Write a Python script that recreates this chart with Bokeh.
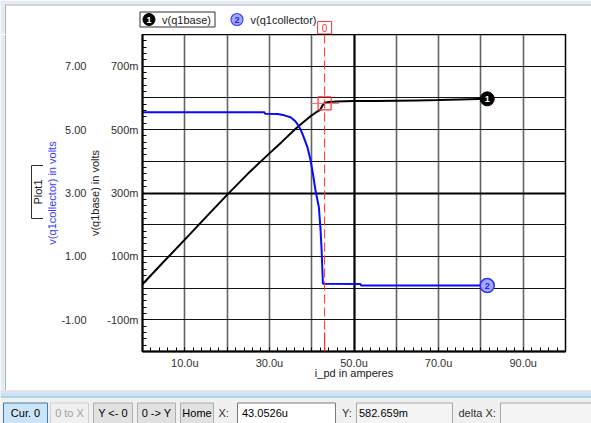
import math
from bokeh.plotting import figure
from bokeh.models import Range1d, LinearAxis, FixedTicker, Grid, Span
from bokeh.layouts import column, row
from bokeh.embed import file_html
from bokeh.resources import INLINE
from bokeh.core.properties import value

# ---------------- data (x in micro-amperes) ----------------
base_x = [0, 5, 10, 15, 20, 25, 30, 33, 36, 38, 40, 41, 42, 42.5, 43, 44, 46, 50, 55, 60, 65, 70, 75, 81.5]
base_v = [0.012, 0.083, 0.153, 0.224, 0.294, 0.362, 0.425, 0.462, 0.500, 0.523, 0.545, 0.554, 0.562,
          0.575, 0.584, 0.587, 0.589, 0.590, 0.590, 0.591, 0.592, 0.593, 0.595, 0.597]

coll_x = [0, 28.8, 29.0, 32.0, 33.5, 35.0, 36.0, 36.6, 37.3, 37.8, 38.5, 39.0, 39.7, 40.3, 40.9,
          41.7, 42.1, 42.35, 42.5, 42.65, 51.5, 51.7, 81.5]
coll_v = [5.55, 5.55, 5.50, 5.49, 5.45, 5.39, 5.28, 5.18, 5.02, 4.87, 4.62, 4.44, 4.05, 3.60, 3.08,
          2.55, 1.82, 1.19, 0.66, 0.14, 0.13, 0.08, 0.08]

cursor_x = 43.0526
cursor_y = 0.582659

x_tick_vals = [10, 30, 50, 70, 90]
x_tick_labels = ["10.0u", "30.0u", "50.0u", "70.0u", "90.0u"]
base_tick_vals = [-0.1, 0.1, 0.3, 0.5, 0.7]
base_tick_labels = ["-100m", "100m", "300m", "500m", "700m"]
coll_tick_vals = [-1, 1, 3, 5, 7]
coll_tick_labels = ["-1.00", "1.00", "3.00", "5.00", "7.00"]

FONT = "Liberation Sans"
BLUE = "#0a0aff"
RED = "#ff3030"
CHROME = "#e6ecf3"
CHROME_LINE = "#a9b3bd"
W = 591
LW = 43                      # width of the left strip holding the "Plot1" tag
FRAME_L, FRAME_R = 142, 565
X0, X1 = 0, 100
Y0, Y1 = -0.2, 0.8


def bare(fig, fill):
    fig.outline_line_color = None
    fig.background_fill_color = fill
    fig.border_fill_color = fill
    fig.frame_align = False


# ---------------- main chart ----------------
p = figure(width=W - LW, height=356, x_range=Range1d(X0, X1), y_range=Range1d(Y0, Y1),
           output_backend="svg", toolbar_location=None,
           min_border_left=FRAME_L - LW, min_border_right=W - FRAME_R, min_border_top=0,
           min_border_bottom=39)
p.frame_align = False
p.extra_y_ranges = {"coll": Range1d(-2, 8)}
p.background_fill_color = "white"
p.border_fill_color = "white"
p.outline_line_color = "black"
p.outline_line_width = 1.5

xa = p.xaxis[0]
xa.ticker = FixedTicker(ticks=x_tick_vals, minor_ticks=[i * 2 for i in range(51)])
xa.major_label_overrides = dict(zip(x_tick_vals, x_tick_labels))
xa.axis_label = "i_pd in amperes"

ya = p.yaxis[0]
ya.ticker = FixedTicker(ticks=base_tick_vals, minor_ticks=[round(-0.2 + i * 0.02, 2) for i in range(51)])
ya.major_label_overrides = dict(zip(base_tick_vals, base_tick_labels))
ya.axis_label = "v(q1base) in volts"

for ax in (xa, ya):
    ax.axis_line_color = "black"
    ax.axis_line_width = 2
    ax.major_tick_in = 4
    ax.major_tick_out = 0
    ax.minor_tick_in = 4
    ax.minor_tick_out = 0
    ax.major_tick_line_color = "black"
    ax.minor_tick_line_color = "black"
    ax.major_label_text_font = FONT
    ax.major_label_text_font_size = "11px"
    ax.major_label_text_color = "#303030"
    ax.axis_label_text_font = FONT
    ax.axis_label_text_font_size = "11px"
    ax.axis_label_text_font_style = "normal"
    ax.axis_label_text_color = "#202020"
xa.major_label_standoff = 5
xa.axis_label_standoff = -5
ya.major_label_standoff = 4
ya.axis_label_standoff = 3

ca = LinearAxis(y_range_name="coll", ticker=FixedTicker(ticks=coll_tick_vals),
                axis_label="v(q1collector) in volts")
ca.major_label_overrides = dict(zip(coll_tick_vals, coll_tick_labels))
ca.axis_line_color = None
ca.major_tick_line_color = None
ca.minor_tick_line_color = None
ca.major_tick_in = 0
ca.major_tick_out = 0
ca.minor_tick_in = 0
ca.minor_tick_out = 0
ca.major_label_standoff = 0
ca.axis_label_standoff = 0
ca.major_label_text_font = FONT
ca.major_label_text_font_size = "11px"
ca.major_label_text_color = "#303030"
ca.axis_label_text_font = FONT
ca.axis_label_text_font_size = "11px"
ca.axis_label_text_font_style = "normal"
ca.axis_label_text_color = "#3a3aff"
p.add_layout(ca, "left")

p.xgrid.ticker = FixedTicker(ticks=[10, 20, 30, 40, 60, 70, 80, 90])
p.xgrid.grid_line_color = "#636363"
p.xgrid.grid_line_width = 1.6
p.ygrid.ticker = FixedTicker(ticks=[-0.1, 0.0, 0.1, 0.2, 0.4, 0.5, 0.6, 0.7])
p.ygrid.grid_line_color = "#111111"
p.ygrid.grid_line_width = 1
p.add_layout(Grid(dimension=0, ticker=FixedTicker(ticks=[50]), grid_line_color="black", grid_line_width=2.2))
p.add_layout(Grid(dimension=1, ticker=FixedTicker(ticks=[0.3]), grid_line_color="black", grid_line_width=2.2))

p.line(base_x, base_v, line_color="black", line_width=2)
p.line(coll_x, coll_v, line_color=BLUE, line_width=2, y_range_name="coll")

# cursor
p.add_layout(Span(location=cursor_x, dimension="height", line_color=RED, line_dash="9 4", line_width=1))
p.segment(x0=[cursor_x], y0=[Y0], x1=[cursor_x], y1=[Y0 + 0.06], line_color=RED, line_width=1.2)
p.scatter([cursor_x], [cursor_y], marker="square", size=13, fill_color=None, line_color=RED, line_width=1.2)
p.scatter([cursor_x], [cursor_y], marker="dash", size=29, line_color="#ff6060", line_width=1)

# end-of-trace markers
p.scatter([base_x[-1]], [base_v[-1]], size=14, fill_color="black", line_color="black")
p.text([base_x[-1]], [base_v[-1]], text=["1"], text_color="white", text_font_size="9px",
       text_font_style="bold", text_align="center", text_baseline="middle", text_font=value(FONT))
p.scatter([coll_x[-1]], [coll_v[-1]], y_range_name="coll", size=14, fill_color="#a3a9ff",
          line_color="#3030ff", line_width=1.5)
p.text([coll_x[-1]], [coll_v[-1]], y_range_name="coll", text=["2"], text_color="#2020ff",
       text_font_size="9px", text_font_style="bold", text_align="center", text_baseline="middle",
       text_font=value(FONT))

# ---------------- left strip: "Plot1" tag ----------------
lf = figure(width=LW, height=356, x_range=Range1d(0, LW), y_range=Range1d(356, 0),
            output_backend="svg", toolbar_location=None, min_border=0,
            x_axis_type=None, y_axis_type=None)
bare(lf, "white")
lf.quad(left=[0, 4.5], right=[4.5, 5.5], top=[0, 0], bottom=[356, 356],
        fill_color=[CHROME, CHROME_LINE], line_color=None)
lf.rect([37], [157.5], width=12, height=53, fill_color="white", line_color="#303030", line_width=1)
lf.text([37.5], [157.5], text=["Plot1"], angle=math.pi / 2, text_color="#202020",
        text_font_size="11px", text_align="center", text_baseline="middle", text_font=value(FONT))

# ---------------- header: legend + cursor tag ----------------
s = (X1 - X0) / (FRAME_R - FRAME_L)
h = figure(width=W, height=34, x_range=Range1d(X0 - FRAME_L * s, X1 + (W - FRAME_R) * s),
           y_range=Range1d(34, 0), output_backend="svg", toolbar_location=None, min_border=0,
           x_axis_type=None, y_axis_type=None)
h.extra_x_ranges = {"px": Range1d(0, W)}
bare(h, "white")

h.quad(left=[0, 0, 0, 4.5], right=[W, W, 4.5, 5.5], top=[0, 4, 0, 4], bottom=[4, 5, 34, 34],
       x_range_name="px", fill_color=[CHROME, CHROME_LINE, CHROME, CHROME_LINE], line_color=None)
h.quad(left=[139.5], right=[214.5], top=[11.5], bottom=[26.5], x_range_name="px",
       fill_color="white", line_color="#303030", line_width=1)
h.scatter([148.5], [19], x_range_name="px", size=12, fill_color="black", line_color="black")
h.text([148.5], [19.5], x_range_name="px", text=["1"], text_color="white", text_font_size="9px",
       text_font_style="bold", text_align="center", text_baseline="middle", text_font=value(FONT))
h.scatter([236.5], [19], x_range_name="px", size=12, fill_color="#a3a9ff", line_color="#4040ff",
          line_width=1.2)
h.text([236.5], [19.5], x_range_name="px", text=["2"], text_color="#2020ff", text_font_size="9px",
       text_font_style="bold", text_align="center", text_baseline="middle", text_font=value(FONT))
h.text([161.5, 250], [19.5, 19.5], x_range_name="px", text=["v(q1base)", "v(q1collector)"],
       text_color="#202020", text_font_size="11px", text_align="left", text_baseline="middle",
       text_font=value(FONT))
h.rect([cursor_x], [27.2], width=14, height=12.5, width_units="screen", height_units="screen",
       fill_color="white", line_color=RED, line_width=1)
h.text([cursor_x], [27.6], text=["0"], text_color=RED, text_font_size="10px", text_align="center",
       text_baseline="middle", text_font=value(FONT))

# ---------------- cursor toolbar ----------------
t = figure(width=W, height=33, x_range=Range1d(0, W), y_range=Range1d(33, 0),
           output_backend="svg", toolbar_location=None, min_border=0,
           x_axis_type=None, y_axis_type=None)
bare(t, "#f0f0f0")

t.quad(left=[0] * 4, right=[W] * 4, top=[0, 1, 2, 6], bottom=[1, 2, 6, 7],
       fill_color=["#b9b9b9", "#e4eef8", "#cfe1f2", "#63c3de"], line_color=None)

btn_left = [3, 50, 93, 137, 180]
btn_right = [47, 88, 132, 175, 213]
btn_text = ["Cur. 0", "0 to X", "Y <- 0", "0 -> Y", "Home"]
btn_fill = ["#cce4f7", "#f0f0f0", "#e1e1e1", "#e1e1e1", "#e1e1e1"]
btn_line = ["#3c7fb1", "#cfcfcf", "#adadad", "#adadad", "#adadad"]
btn_tcol = ["#000000", "#a0a0a0", "#000000", "#000000", "#000000"]
t.quad(left=btn_left, right=btn_right, top=[12.5] * 5, bottom=[35] * 5,
       fill_color=btn_fill, line_color=btn_line, line_width=1)
t.text([(a + b) / 2 for a, b in zip(btn_left, btn_right)], [22.5] * 5, text=btn_text,
       text_color=btn_tcol, text_align="center", text_baseline="middle",
       text_font=value(FONT), text_font_size="11px")

box_left = [237, 356, 500]
box_right = [335, 452, 600]
t.quad(left=box_left, right=box_right, top=[12.5] * 3, bottom=[35] * 3,
       fill_color=["white", "#f4f4f4", "#f4f4f4"], line_color=["#7a7a7a", "#a8a8a8", "#a8a8a8"])
t.text([218, 341.5, 458, 241.5, 358.5], [22.5] * 5,
       text=["X:", "Y:", "delta X:", "43.0526u", "582.659m"],
       text_color=["#303030", "#303030", "#303030", "#000000", "#000000"],
       text_align="left", text_baseline="middle", text_font=value(FONT), text_font_size="11px")

layout = column(h, row(lf, p), t)
open("out.html", "w").write(file_html(layout, INLINE))
